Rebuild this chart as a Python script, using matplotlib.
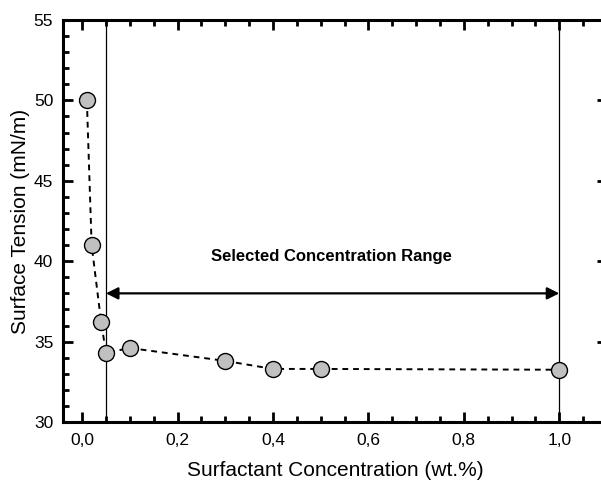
import numpy as np
import matplotlib.pyplot as plt
from matplotlib.ticker import MultipleLocator, FuncFormatter

plt.rcParams['font.family'] = ['Liberation Sans', 'DejaVu Sans']

conc = [0.01, 0.02, 0.04, 0.05, 0.1, 0.3, 0.4, 0.5, 1.0]
tension = [50.0, 41.0, 36.2, 34.3, 34.6, 33.8, 33.3, 33.3, 33.25]

range_lo, range_hi = 0.05, 1.0
arrow_y = 38.0
range_label = "Selected Concentration Range"

fig = plt.figure(figsize=(6.01, 4.8), dpi=100)
ax = fig.add_axes([63 / 601, 58 / 480, 544 / 601, 402 / 480])

ax.plot(conc, tension, ls=(0, (3, 2.5)), color='black', lw=1.4, zorder=3)
ax.plot(conc, tension, ls='none', marker='o', ms=11.5, mfc='#c0c0c0',
        mec='black', mew=1.0, zorder=4)

for xv in (range_lo, range_hi):
    ax.axvline(xv, color='black', lw=0.9, zorder=2)

ax.annotate('', xy=(range_lo, arrow_y), xytext=(range_hi, arrow_y),
            arrowprops=dict(arrowstyle='<|-|>', color='black', lw=1.6,
                            mutation_scale=18, shrinkA=0, shrinkB=0))
ax.text(0.523, 40.3, range_label, ha='center', va='center',
        fontsize=12, fontweight='bold')

ax.set_xlim(-0.04, 1.1)
ax.set_ylim(30, 55)

ax.xaxis.set_major_locator(MultipleLocator(0.2))
ax.xaxis.set_minor_locator(MultipleLocator(0.05))
ax.yaxis.set_major_locator(MultipleLocator(5))
ax.yaxis.set_minor_locator(MultipleLocator(1))
ax.xaxis.set_major_formatter(FuncFormatter(lambda v, p: f"{v:.1f}".replace('.', ',')))

ax.tick_params(which='both', direction='in', top=True, right=True, width=2.0,
               labelsize=12.5)
ax.tick_params(which='major', length=7, pad=7)
ax.tick_params(which='minor', length=4)
ax.tick_params(axis='x', which='major', pad=8)

for side in ('left', 'bottom', 'top', 'right'):
    ax.spines[side].set_linewidth(2.2)

ax.set_xlabel("Surfactant Concentration (wt.%)", fontsize=15, labelpad=9)
ax.set_ylabel("Surface Tension (mN/m)", fontsize=15, labelpad=3)

fig.savefig('out.png', dpi=100)
